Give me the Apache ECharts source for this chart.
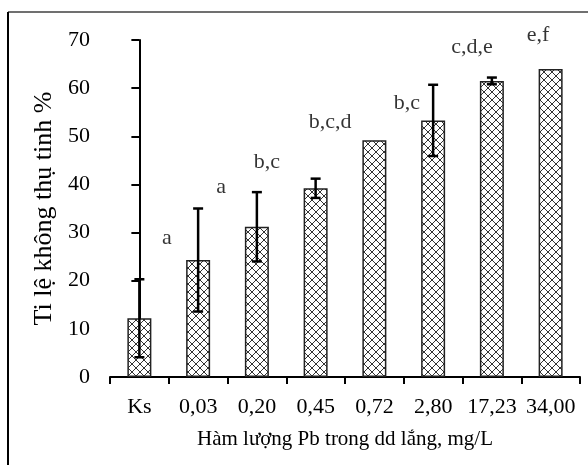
<!DOCTYPE html>
<html>
<head>
<meta charset="utf-8">
<script src="https://cdn.jsdelivr.net/npm/echarts@6/dist/echarts.min.js"></script>
<style>html,body{margin:0;padding:0;background:#fff;}#c{width:588px;height:465px;}</style>
</head>
<body>
<div id="c"></div>
<script>
var categories = ['Ks', '0,03', '0,20', '0,45', '0,72', '2,80', '17,23', '34,00'];
var means = [12.2, 24.3, 31.2, 39.2, 49.2, 53.3, 61.5, 64.0];
var errors = [8.1, 10.7, 7.2, 2.0, 0, 7.4, 0.7, 0];
var yTicks = [0, 10, 20, 30, 40, 50, 60, 70];
var letterTexts = ['a', 'a', 'b,c', 'b,c,d', 'b,c', 'c,d,e', 'e,f'];
var letterX = [0.47, 1.39, 2.17, 3.245, 4.555, 5.66, 6.785];
var letterY = [28.9, 39.5, 44.7, 53.0, 56.9, 68.5, 71.0];

var FONT = '"Liberation Serif", "Times New Roman", serif';

function makePattern() {
  var s = 8;
  var cv = document.createElement('canvas');
  cv.width = s; cv.height = s;
  var ctx = cv.getContext('2d');
  ctx.fillStyle = '#fff';
  ctx.fillRect(0, 0, s, s);
  ctx.strokeStyle = '#333';
  ctx.lineWidth = 1;
  ctx.beginPath();
  ctx.moveTo(0, 0); ctx.lineTo(s, s);
  ctx.moveTo(s, 0); ctx.lineTo(0, s);
  ctx.stroke();
  return cv;
}

var chart = echarts.init(document.getElementById('c'), null, {renderer: 'canvas'});

var errData = means.map(function (m, i) { return [i, m - errors[i], m + errors[i]]; });
var letterData = letterTexts.map(function (t, i) { return [letterX[i], letterY[i], t]; });

chart.setOption({
  animation: false,
  backgroundColor: '#fff',
  grid: {left: 110, right: 8, top: 40, bottom: 88, containLabel: false},
  xAxis: [{
    type: 'category',
    data: categories,
    boundaryGap: true,
    axisLine: {lineStyle: {color: '#000', width: 2}},
    axisTick: {show: true, inside: false, length: 7, interval: 0, alignWithLabel: false, lineStyle: {color: '#000', width: 2}},
    axisLabel: {color: '#000', fontFamily: FONT, fontSize: 22, margin: 19, interval: 0},
    name: 'Hàm lượng Pb trong dd lắng, mg/L',
    nameLocation: 'middle',
    nameGap: 52,
    nameTextStyle: {color: '#000', fontFamily: FONT, fontSize: 21},
    splitLine: {show: false}
  }, {
    type: 'value',
    min: -0.5,
    max: 7.5,
    show: false
  }],
  yAxis: {
    type: 'value',
    min: 0,
    max: 70,
    interval: 10,
    axisLine: {show: true, lineStyle: {color: '#000', width: 2}},
    axisTick: {show: true, inside: false, length: 8, lineStyle: {color: '#000', width: 2}},
    axisLabel: {color: '#000', fontFamily: FONT, fontSize: 22, margin: 20,
      formatter: function (v) { return yTicks.indexOf(v) >= 0 ? String(v) : ''; }},
    splitLine: {show: false},
    name: 'Ti lệ không thụ tinh %',
    nameLocation: 'middle',
    nameGap: 50,
    nameTextStyle: {color: '#000', fontFamily: FONT, fontSize: 26}
  },
  series: [{
    type: 'bar',
    data: means,
    barWidth: 24,
    itemStyle: {
      color: {image: makePattern(), repeat: 'repeat'},
      borderColor: '#222',
      borderWidth: 1.5
    },
    silent: true
  }, {
    type: 'custom',
    data: errData,
    z: 10,
    renderItem: function (params, api) {
      var i = api.value(0);
      var lo = api.coord([i, api.value(1)]);
      var hi = api.coord([i, api.value(2)]);
      if (Math.abs(hi[1] - lo[1]) < 0.5) return null;
      var w = 5;
      var st = {stroke: '#000', lineWidth: 2.5};
      return {
        type: 'group',
        children: [
          {type: 'line', shape: {x1: hi[0], y1: hi[1], x2: lo[0], y2: lo[1]}, style: st},
          {type: 'line', shape: {x1: hi[0] - w, y1: hi[1], x2: hi[0] + w, y2: hi[1]}, style: st},
          {type: 'line', shape: {x1: lo[0] - w, y1: lo[1], x2: lo[0] + w, y2: lo[1]}, style: st}
        ]
      };
    }
  }, {
    type: 'scatter',
    xAxisIndex: 1,
    data: letterData,
    symbolSize: 0,
    clip: false,
    silent: true,
    label: {
      show: true,
      position: 'inside',
      formatter: function (p) { return p.value[2]; },
      color: '#000',
      fontFamily: FONT,
      fontSize: 22
    }
  }],
  graphic: [
    {type: 'line', shape: {x1: 8, y1: 12, x2: 588, y2: 12}, style: {stroke: '#707070', lineWidth: 2}},
    {type: 'line', shape: {x1: 8, y1: 12, x2: 8, y2: 465}, style: {stroke: '#000', lineWidth: 2}},
    {type: 'circle', shape: {cx: 438, cy: 289, r: 2.2}, style: {fill: '#e02020'}}
  ]
});
</script>
</body>
</html>
